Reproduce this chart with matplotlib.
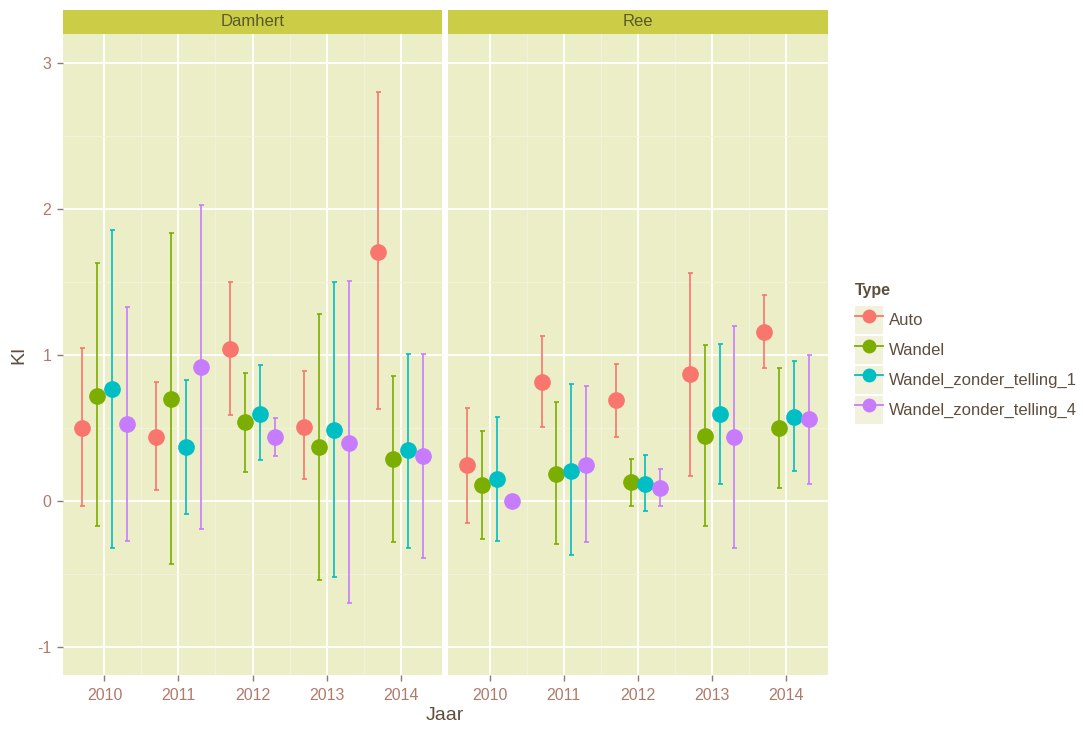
import matplotlib
matplotlib.use("Agg")
import matplotlib.pyplot as plt
import numpy as np
from matplotlib.lines import Line2D
from matplotlib.patches import Rectangle
from matplotlib.legend_handler import HandlerLine2D

plt.rcParams["font.family"] = ["Liberation Sans", "DejaVu Sans"]
plt.rcParams["axes.unicode_minus"] = False

years = ["2010", "2011", "2012", "2013", "2014"]
types = ["Auto", "Wandel", "Wandel_zonder_telling_1", "Wandel_zonder_telling_4"]
panels = ["Damhert", "Ree"]

# Damhert: estimate, lower, upper per type per year
dam_est = {
    "Auto":                    [0.50, 0.44, 1.04, 0.51, 1.71],
    "Wandel":                  [0.72, 0.70, 0.54, 0.37, 0.29],
    "Wandel_zonder_telling_1": [0.77, 0.37, 0.60, 0.49, 0.35],
    "Wandel_zonder_telling_4": [0.53, 0.92, 0.44, 0.40, 0.31],
}
dam_lo = {
    "Auto":                    [-0.03, 0.08, 0.59, 0.15, 0.63],
    "Wandel":                  [-0.17, -0.43, 0.20, -0.54, -0.28],
    "Wandel_zonder_telling_1": [-0.32, -0.09, 0.28, -0.52, -0.32],
    "Wandel_zonder_telling_4": [-0.27, -0.19, 0.31, -0.70, -0.39],
}
dam_hi = {
    "Auto":                    [1.05, 0.82, 1.50, 0.89, 2.80],
    "Wandel":                  [1.63, 1.84, 0.88, 1.28, 0.86],
    "Wandel_zonder_telling_1": [1.86, 0.83, 0.93, 1.50, 1.01],
    "Wandel_zonder_telling_4": [1.33, 2.03, 0.57, 1.51, 1.01],
}
ree_est = {
    "Auto":                    [0.25, 0.82, 0.69, 0.87, 1.16],
    "Wandel":                  [0.11, 0.19, 0.13, 0.45, 0.50],
    "Wandel_zonder_telling_1": [0.15, 0.21, 0.12, 0.60, 0.58],
    "Wandel_zonder_telling_4": [0.00, 0.25, 0.09, 0.44, 0.56],
}
ree_lo = {
    "Auto":                    [-0.15, 0.51, 0.44, 0.17, 0.91],
    "Wandel":                  [-0.26, -0.29, -0.03, -0.17, 0.09],
    "Wandel_zonder_telling_1": [-0.27, -0.37, -0.07, 0.12, 0.21],
    "Wandel_zonder_telling_4": [0.00, -0.28, -0.03, -0.32, 0.12],
}
ree_hi = {
    "Auto":                    [0.64, 1.13, 0.94, 1.56, 1.41],
    "Wandel":                  [0.48, 0.68, 0.29, 1.07, 0.91],
    "Wandel_zonder_telling_1": [0.58, 0.80, 0.32, 1.08, 0.96],
    "Wandel_zonder_telling_4": [0.00, 0.79, 0.22, 1.20, 1.00],
}

colors = ["#F8766D", "#7CAE00", "#00BFC4", "#C77CFF"]
offsets = [-0.3, -0.1, 0.1, 0.3]

panel_bg = "#ECEEC8"
strip_bg = "#CACD45"
tick_col = "#B07A6A"
title_col = "#5E4E3E"

fig = plt.figure(figsize=(10.83, 7.31), dpi=100)
fig.patch.set_facecolor("white")
W, H = 1083, 731
bottom = 1 - 675 / H
height = (675 - 34) / H
ax1 = fig.add_axes([63 / W, bottom, 379 / W, height])
ax2 = fig.add_axes([448 / W, bottom, 380 / W, height])

data = [(dam_est, dam_lo, dam_hi), (ree_est, ree_lo, ree_hi)]
xpos = np.arange(1, len(years) + 1)

for ax, name, (est, lo, hi) in zip([ax1, ax2], panels, data):
    ax.set_facecolor(panel_bg)
    for s in ax.spines.values():
        s.set_visible(False)
    ax.set_xlim(0.44, 5.56)
    ax.set_ylim(-1.19, 3.2)
    ax.set_yticks([-1, 0, 1, 2, 3])
    ax.set_yticks([-0.5, 0.5, 1.5, 2.5], minor=True)
    ax.set_xticks(xpos)
    ax.set_xticks(xpos[:-1] + 0.5, minor=True)
    ax.set_xticklabels(years)
    ax.grid(True, which="major", color="white", lw=1.3, zorder=0)
    ax.grid(True, which="minor", color="#F3F4DC", lw=0.6, zorder=0)
    ax.set_axisbelow(True)
    ax.tick_params(which="major", length=4.5, width=1, color="#8A7A70",
                   labelsize=11.5, labelcolor=tick_col)
    ax.tick_params(axis="x", which="major", pad=5)
    ax.tick_params(axis="y", which="major", pad=4)
    ax.tick_params(which="minor", length=0)
    for j, t in enumerate(types):
        e = np.array(est[t])
        l = np.array(lo[t])
        h = np.array(hi[t])
        ax.errorbar(xpos + offsets[j], e, yerr=[e - l, h - e], fmt="o",
                    color=colors[j], ms=11, mec=colors[j], elinewidth=1.2,
                    capsize=1.8, capthick=1.2, zorder=3)
    # strip
    ax.add_patch(Rectangle((0, 1.0), 1, 24 / 641, transform=ax.transAxes,
                           facecolor=strip_bg, edgecolor="none", clip_on=False))
    ax.text(0.5, 1 + 12 / 641, name, transform=ax.transAxes, ha="center",
            va="center", fontsize=12, color="#5A5A2A")

ax2.tick_params(axis="y", which="both", left=False, labelleft=False)
ax1.set_ylabel("KI", fontsize=14, color=title_col, labelpad=7)
fig.text(445 / W, 1 - 716 / H, "Jaar", ha="center", va="center",
         fontsize=14, color=title_col)


class KeyHandler(HandlerLine2D):
    def create_artists(self, legend, orig_handle, xdescent, ydescent,
                       width, height, fontsize, trans):
        arts = super().create_artists(legend, orig_handle, xdescent, ydescent,
                                      width, height, fontsize, trans)
        r = Rectangle((-xdescent, -ydescent), width, height,
                      facecolor="#F2F2DC", edgecolor="none", transform=trans)
        return [r] + list(arts)


handles = [Line2D([0], [0], color=c, marker="o", ms=9, lw=1.3) for c in colors]
leg = fig.legend(handles, types, loc="upper left",
                 bbox_to_anchor=(855 / W, 1 - 306 / H), frameon=False,
                 borderpad=0, borderaxespad=0,
                 fontsize=12, handlelength=1.68,
                 handleheight=2.2, labelspacing=0.12, handletextpad=0.38,
                 handler_map={Line2D: KeyHandler()})
for t in leg.get_texts():
    t.set_color(title_col)
fig.text(855 / W, 1 - 291 / H, "Type", ha="left", va="center",
         fontsize=11.5, fontweight="bold", color=title_col)

fig.savefig("out.png", dpi=100)
